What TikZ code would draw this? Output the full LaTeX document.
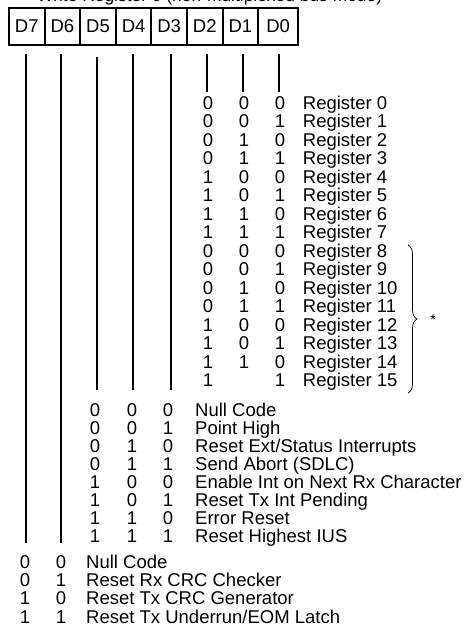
\documentclass[tikz,border=0pt]{standalone}
\usepackage{fontspec}
\setmainfont{Liberation Sans}
\usetikzlibrary{decorations.pathreplacing}

\begin{document}
\begin{tikzpicture}[x=1pt,y=-1pt,
  cell/.style={draw,line width=2pt,minimum height=37pt,inner sep=0pt,font=\fontsize{18.5}{18.5}\selectfont},
  bitline/.style={line width=2pt},
  digit/.style={anchor=base,inner sep=0pt,font=\fontsize{18.5}{18.5}\selectfont},
  codetext/.style={anchor=base west,inner sep=0pt,font=\fontsize{18.5}{18.5}\selectfont}]

  \useasboundingbox (0,0) rectangle (470,626);

  % heading, cut off by the top edge
  \node[codetext,font=\fontsize{17.4}{17.4}\selectfont] (heading) at (37,1.5) {Write Register 0 (non-multiplexed bus mode)};

  % the register bits
  \foreach \n/\x/\w in {7/26.8/35.6, 6/62.4/35.6, 5/98/35.6, 4/133.6/35.6,
      3/169.2/35.6, 2/204.8/35.6, 1/240.4/35.6, 0/278.1/39.8}
    \node[cell,minimum width=\w pt] (d\n) at (\x,26.5) {D\n};

  \foreach \n/\x/\ya/\yb in {7/26/54/543, 6/61/54/543, 5/97/57/390, 4/133/54/390,
      3/171/54/390, 2/207/54/92, 1/243/54/92, 0/279/54/92} {
    \coordinate (top\n) at (\x,\ya);
    \coordinate (end\n) at (\x,\yb);
    \draw[bitline] (top\n) -- (end\n);
  }

  % D2..D0: register pointer
  \foreach \a/\b/\c [count=\i from 0] in {0/0/0, 0/0/1, 0/1/0, 0/1/1, 1/0/0, 1/0/1, 1/1/0, 1/1/1,
      0/0/0, 0/0/1, 0/1/0, 0/1/1, 1/0/0, 1/0/1, 1/1/0} {
    \node[digit] (ra\i) at (208,{109.3+18.5*\i}) {\a};
    \node[digit] (rb\i) at (244,{109.3+18.5*\i}) {\b};
    \node[digit] (rc\i) at (280,{109.3+18.5*\i}) {\c};
    \node[codetext] (reg\i) at (302.7,{109.3+18.5*\i}) {Register \i};
  }
  \node[digit] (ra15) at (208,386.8) {1};
  \node[digit] (rc15) at (280,386.8) {1};
  \node[codetext] (reg15) at (302.7,386.8) {Register 15};

  \coordinate (brtop) at (408,245);
  \coordinate (brbot) at (408,393);
  \draw[line width=0.7pt,decorate,decoration={brace,amplitude=9pt}] (brtop) -- (brbot);
  \node[font=\fontsize{14}{14}\selectfont] (star) at (433,320) {*};

  % D5..D3: commands
  \foreach \a/\b/\c/\t [count=\i from 0] in {0/0/0/Null Code, 0/0/1/Point High,
      0/1/0/Reset Ext\slash Status Interrupts, 0/1/1/Send Abort (SDLC),
      1/0/0/Enable Int on Next Rx Character, 1/0/1/Reset Tx Int Pending,
      1/1/0/Error Reset, 1/1/1/Reset Highest IUS} {
    \node[digit] (ca\i) at (95,{416+18.1*\i}) {\a};
    \node[digit] (cb\i) at (132,{416+18.1*\i}) {\b};
    \node[digit] (cc\i) at (168,{416+18.1*\i}) {\c};
    \node[codetext] (cmd\i) at (195,{416+18.1*\i}) {\t};
  }

  % D7..D6: CRC reset codes
  \foreach \a/\b/\t [count=\i from 0] in {0/0/Null Code, 0/1/Reset Rx CRC Checker,
      1/0/Reset Tx CRC Generator, 1/1/Reset Tx Underrun\slash EOM Latch} {
    \node[digit] (xa\i) at (25,{568.3+18.3*\i}) {\a};
    \node[digit] (xb\i) at (61,{568.3+18.3*\i}) {\b};
    \node[codetext] (crc\i) at (86,{568.3+18.3*\i}) {\t};
  }
\end{tikzpicture}
\end{document}
